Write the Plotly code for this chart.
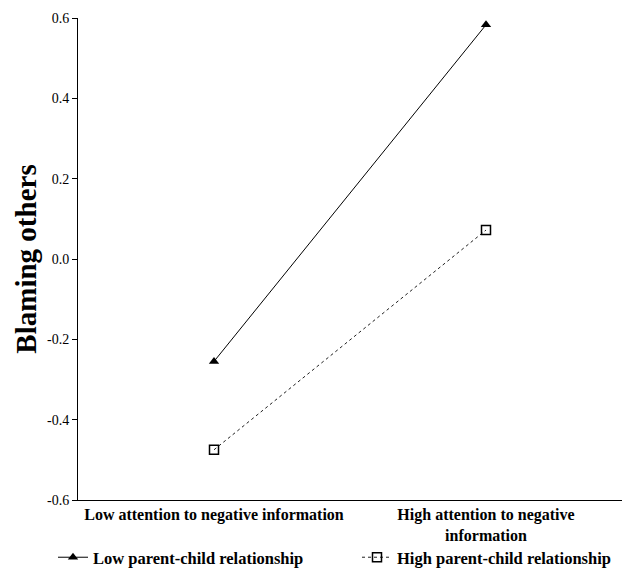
import plotly.graph_objects as go

categories = ["Low attention to negative information", "High attention to negative<br>information"]
low_pc = [-0.255, 0.583]
high_pc = [-0.475, 0.072]
series_names = ["Low parent-child relationship", "High parent-child relationship"]
y_ticks = [-0.6, -0.4, -0.2, 0.0, 0.2, 0.4, 0.6]
y_tick_labels = ["-0.6", "-0.4", "-0.2", "0.0", "0.2", "0.4", "0.6"]

font_family = "Liberation Serif, Times New Roman, serif"
W, H = 625, 569

fig = go.Figure()
fig.add_trace(go.Scatter(
    x=categories, y=low_pc, name=series_names[0], mode="lines+markers",
    line=dict(color="black", width=1),
    marker=dict(symbol="triangle-up", size=9, color="black"),
    legend="legend",
))
fig.add_trace(go.Scatter(
    x=categories, y=high_pc, name=series_names[1], mode="lines+markers",
    line=dict(color="#222", width=1, dash="3px,3px"),
    marker=dict(symbol="square-open", size=9, color="black", line=dict(width=1.5)),
    legend="legend2",
))

leg_font = dict(size=16.5, family=font_family, weight="bold")
leg_top = 540
fig.update_layout(
    width=W, height=H,
    margin=dict(l=78, r=3, t=18, b=H - 500),
    paper_bgcolor="white", plot_bgcolor="white",
    font=dict(family=font_family, color="black", size=13),
    showlegend=True,
    legend=dict(orientation="h", xref="container", yref="container",
                x=53 / W, xanchor="left", y=1 - leg_top / H, yanchor="top",
                font=leg_font, bgcolor="rgba(0,0,0,0)"),
    legend2=dict(orientation="h", xref="container", yref="container",
                 x=357 / W, xanchor="left", y=1 - leg_top / H, yanchor="top",
                 font=leg_font, bgcolor="rgba(0,0,0,0)"),
    xaxis=dict(
        type="category", range=[-0.5, 1.5], automargin=False,
        showline=True, linecolor="black", linewidth=1,
        showgrid=False, ticks="", zeroline=False, ticklabelstandoff=0,
        tickfont=dict(size=16, family=font_family, weight="bold"),
    ),
    yaxis=dict(
        range=[-0.6, 0.6], tickvals=y_ticks, ticktext=y_tick_labels, automargin=False,
        showline=True, linecolor="black", linewidth=1,
        showgrid=False, zeroline=False, ticks="outside", ticklen=5, tickcolor="black",
        tickfont=dict(size=14, family=font_family),
        title=dict(text="Blaming others", font=dict(size=29, family=font_family, weight="bold"), standoff=1),
    ),
)

fig.write_html("out.html", config={"displayModeBar": False},
               post_script="document.body.style.margin='0';document.body.style.overflow='hidden';")
